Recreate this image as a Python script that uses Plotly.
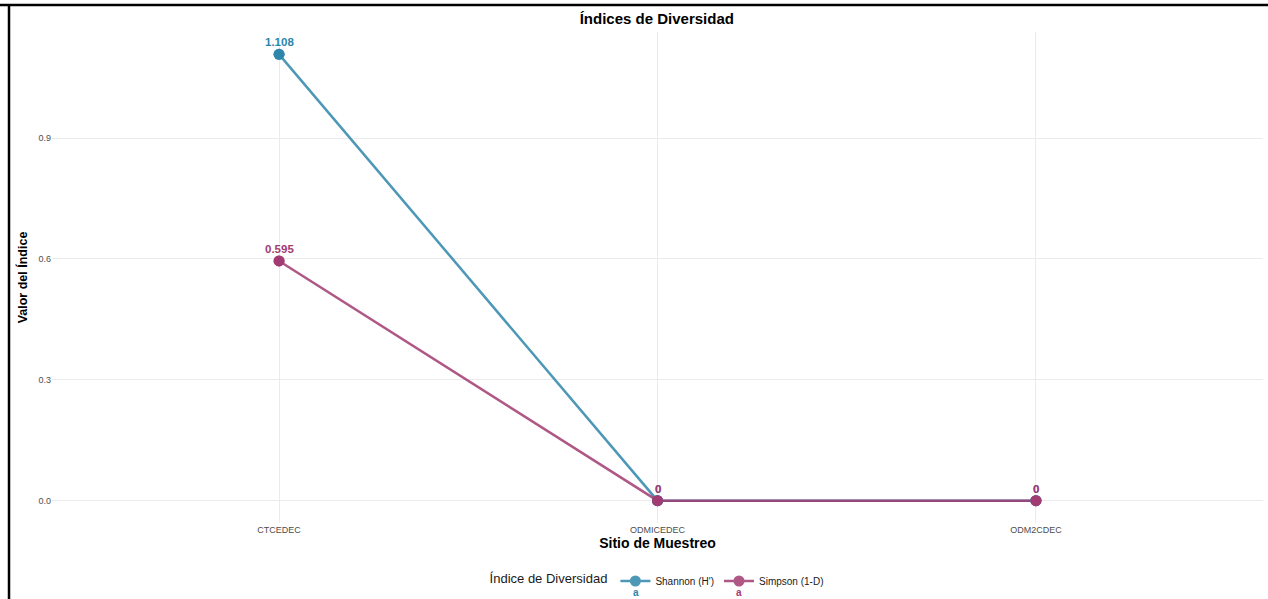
import plotly.graph_objects as go

sites = ["CTCEDEC", "ODMICEDEC", "ODM2CDEC"]
shannon = [1.108, 0, 0]
simpson = [0.595, 0, 0]
y_ticks = [0.0, 0.3, 0.6, 0.9]
y_tick_labels = ["0.0", "0.3", "0.6", "0.9"]

c_sh = "#2E86AB"
c_si = "#A23B72"

def fmt(v):
    return ("%g" % v)

series = [("Shannon (H')", shannon, c_sh), ("Simpson (1-D)", simpson, c_si)]

fig = go.Figure()
for name, vals, col in series:
    fig.add_trace(go.Scatter(
        x=sites, y=vals, mode="lines+markers", name=name,
        line=dict(color=col, width=2.5), opacity=0.85,
        marker=dict(color=col, size=11),
    ))
for name, vals, col in series:
    fig.add_trace(go.Scatter(
        x=sites, y=vals, mode="markers", showlegend=False,
        marker=dict(color=col, size=11), hoverinfo="skip",
    ))

label_annots = []
for name, vals, col in series:
    for s, v in zip(sites, vals):
        label_annots.append(dict(
            text="<b>%s</b>" % fmt(v), x=s, y=v, xref="x", yref="y", showarrow=False,
            xanchor="center", yanchor="middle", yshift=12,
            font=dict(size=11.5, color=col, family="Liberation Sans"),
        ))

fig.update_layout(
    width=1268, height=599,
    margin=dict(l=52, r=5, t=32, b=76),
    plot_bgcolor="white", paper_bgcolor="white",
    font=dict(family="Liberation Sans", color="#4d4d4d"),
    title=dict(text="<b>Índices de Diversidad</b>", x=0.518, xanchor="center",
               yref="container", y=1 - 19 / 599, yanchor="middle",
               font=dict(size=15, color="black")),
    xaxis=dict(
        type="category", range=[-0.6, 2.6], showgrid=True, gridcolor="#ebebeb", gridwidth=1,
        zeroline=False, showline=False, ticks="", tickfont=dict(size=9, color="#4d4d4d"),
        title=dict(text="<b>Sitio de Muestreo</b>", font=dict(size=14, color="black"), standoff=2),
    ),
    yaxis=dict(
        range=[-0.0554, 1.1634], tickvals=y_ticks, ticktext=y_tick_labels,
        showgrid=True, gridcolor="#ebebeb", gridwidth=1, zeroline=False, showline=False,
        ticks="", tickfont=dict(size=9, color="#4d4d4d"),
        title=dict(text="<b>Valor del Índice</b>", font=dict(size=12.5, color="black"), standoff=8),
    ),
    legend=dict(
        orientation="h", x=0.519, xanchor="center", xref="container",
        yref="container", y=1 - 581 / 599, yanchor="middle",
        title=dict(text="Índice de Diversidad", font=dict(size=13, color="#1a1a1a")),
        font=dict(size=10, color="#1a1a1a"), itemwidth=30,
    ),
    shapes=[
        dict(type="line", xref="paper", yref="paper", x0=-0.0355, x1=-0.0355, y0=-0.3, y1=1.055,
             line=dict(color="black", width=2.5)),
        dict(type="line", xref="paper", yref="paper", x0=-0.06, x1=1.1, y0=1.055, y1=1.055,
             line=dict(color="black", width=2.5)),
    ],
    annotations=label_annots + [
        dict(text="<b>a</b>", x=(636 - 52) / 1211, y=(523 - 592) / 491, xref="paper", yref="paper",
             xanchor="center", yanchor="middle",
             showarrow=False, font=dict(size=10, color=c_sh)),
        dict(text="<b>a</b>", x=(739 - 52) / 1211, y=(523 - 592) / 491, xref="paper", yref="paper",
             xanchor="center", yanchor="middle",
             showarrow=False, font=dict(size=10, color=c_si)),
    ],
)
fig.write_html("out.html", config={"displayModeBar": False},
               post_script="document.body.style.margin='0';")
